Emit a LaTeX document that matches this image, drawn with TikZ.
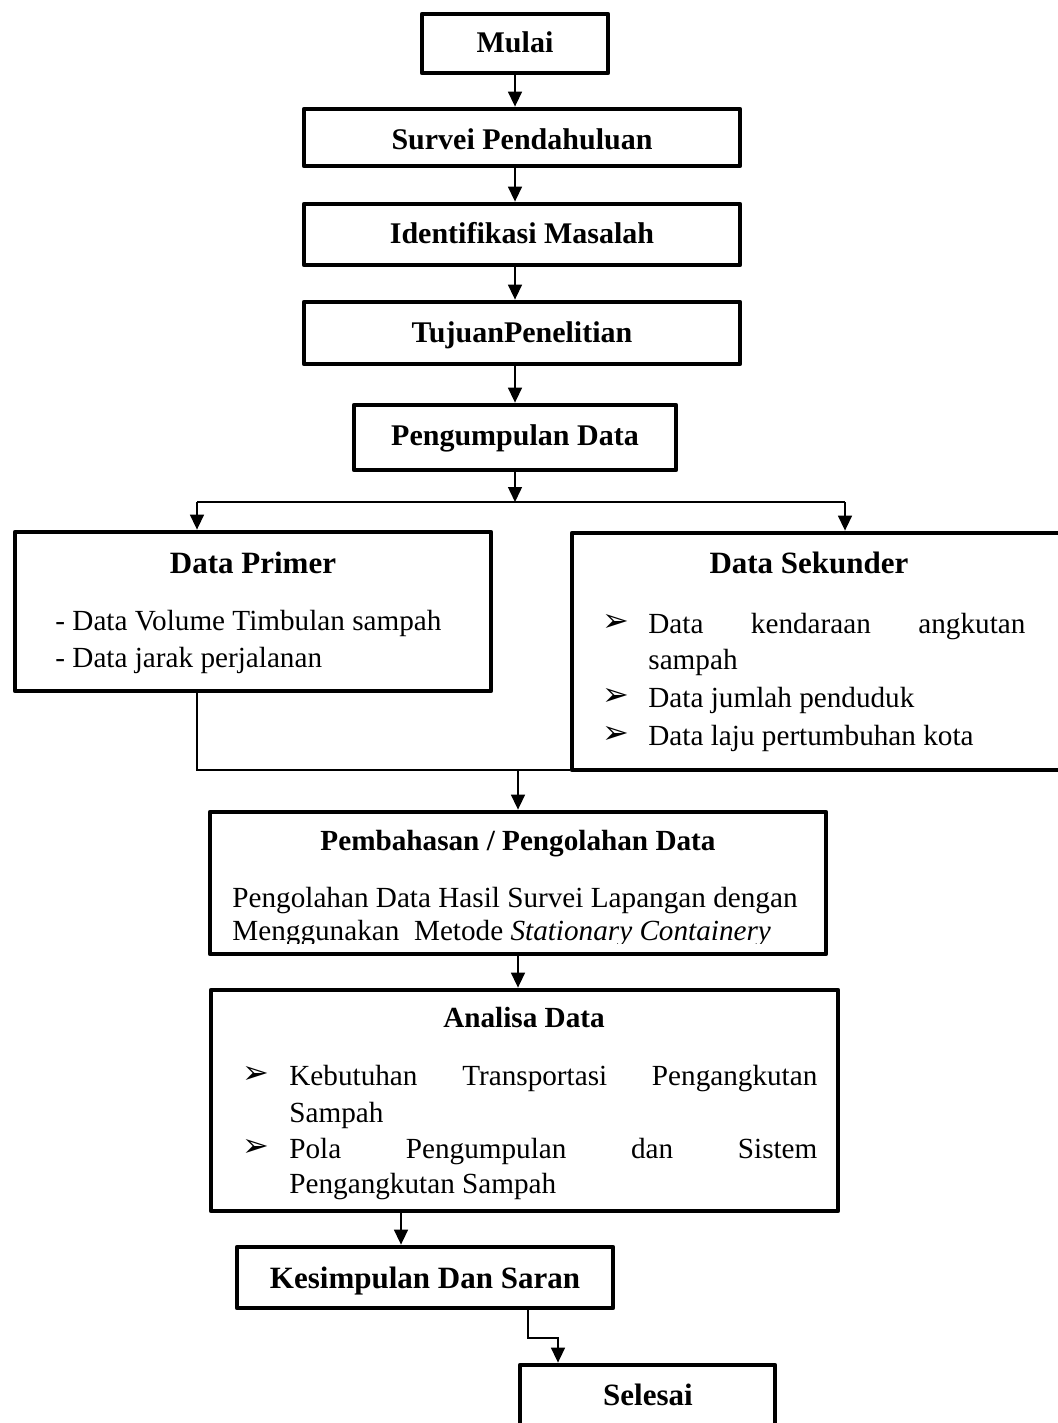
\documentclass[tikz,border=0pt]{standalone}
\usepackage{fontspec}
\setmainfont{Liberation Serif}
\newfontfamily\dingfont{DejaVu Sans}
\usetikzlibrary{arrows.meta,fit}
\tikzset{
  box/.style={draw, line width=2.4pt, inner sep=0pt, line join=round},
  arr/.style={-{Triangle[length=7.5pt,width=7pt]}, line width=0.75pt},
  conn/.style={line width=0.75pt},
  ttl/.style={font=\fontsize{15}{18}\selectfont\bfseries, inner sep=0pt, anchor=base},
  ttlb/.style={font=\fontsize{15.5}{18}\selectfont\bfseries, inner sep=0pt, anchor=base},
  ttls/.style={font=\fontsize{14.6}{17}\selectfont\bfseries, inner sep=0pt, anchor=base},
  txt/.style={font=\fontsize{14.6}{17}\selectfont, inner sep=0pt, anchor=base west},
  bul/.style={font=\dingfont\fontsize{16}{18}\selectfont, inner sep=0pt, anchor=base west}
}
\begin{document}
\begin{tikzpicture}[x=0.5pt,y=-0.5pt]
\useasboundingbox (0,0) rectangle (1057,1423);

% boxes
\node[box, fit={(422,14) (608,73)}] (mulai) {};
\node[box, fit={(304,109) (740,166)}] (survei) {};
\node[box, fit={(304,204) (740,265)}] (ident) {};
\node[box, fit={(304,302) (740,364)}] (tujuan) {};
\node[box, fit={(354,405) (676,470)}] (peng) {};
\node[box, fit={(15,532) (491,691)}] (primer) {};
\node[box, fit={(572,533) (1090,770)}] (sekunder) {};
\node[box, fit={(210,812) (826,954)}] (pem) {};
\node[box, fit={(211,990) (838,1211)}] (ana) {};
\node[box, fit={(237,1247) (613,1308)}] (kes) {};
\node[box, fit={(520,1365) (775,1460)}] (sel) {};

% texts
\node[ttl] (tmulai) at (515,53) {Mulai};
\node[ttl] (tsurvei) at (522,150) {Survei Pendahuluan};
\node[ttl] (tident) at (522,243) {Identifikasi Masalah};
\node[ttl] (ttujuan) at (522,342) {TujuanPenelitian};
\node[ttl] (tpeng) at (515,445) {Pengumpulan Data};

\node[ttlb] (tprimer) at (253,573) {Data Primer};
\node[txt] (p1) at (55,630) {- Data Volume Timbulan sampah};
\node[txt] (p2) at (55,667) {- Data jarak perjalanan};

\node[ttlb] (tsek) at (809,573) {Data Sekunder};
\node[bul] (sb1) at (602,631) {➢};
\node[txt] (s1) at (648,633) {\hbox to 188.5pt{Data\hfill kendaraan\hfill angkutan}};
\node[txt] (s2) at (648,669) {sampah};
\node[bul] (sb2) at (602,705) {➢};
\node[txt] (s3) at (648,707) {Data jumlah penduduk};
\node[bul] (sb3) at (602,743) {➢};
\node[txt] (s4) at (648,745) {Data laju pertumbuhan kota};

\node[ttls] (tpem) at (518,850) {Pembahasan / Pengolahan Data};
\node[txt] (pm1) at (232,907) {Pengolahan Data Hasil Survei Lapangan dengan};
\begin{scope}
  \clip (212,880) rectangle (824,943);
  \node[txt] (pm2) at (232,940) {Menggunakan\ \ Metode \textit{Stationary Containery}};
\end{scope}

\node[ttls] (tana) at (524,1027) {Analisa Data};
\node[bul] (ab1) at (242,1083) {➢};
\node[txt] (a1) at (289,1085) {\hbox to 264pt{Kebutuhan\hfill Transportasi\hfill Pengangkutan}};
\node[txt] (a2) at (289,1122) {Sampah};
\node[bul] (ab2) at (242,1156) {➢};
\node[txt] (a3) at (289,1158) {\hbox to 264pt{Pola\hfill Pengumpulan\hfill dan\hfill Sistem}};
\node[txt] (a4) at (289,1193) {Pengangkutan Sampah};

\node[ttlb] (tkes) at (425,1288) {Kesimpulan Dan Saran};
\node[ttlb] (tsel) at (648,1405) {Selesai};

% connectors
\draw[arr] (mulai.south) -- (mulai.south |- survei.north);
\draw[arr] (mulai.south |- survei.south) -- (mulai.south |- ident.north);
\draw[arr] (mulai.south |- ident.south) -- (mulai.south |- tujuan.north);
\draw[arr] (mulai.south |- tujuan.south) -- (mulai.south |- peng.north);
\coordinate (bl) at (197,502);
\coordinate (br) at (845,502);
\draw[arr] (peng.south) -- (peng.south |- bl);
\draw[conn] (bl) -- (br);
\draw[arr] (bl) -- (bl |- primer.north);
\draw[arr] (br) -- (br |- sekunder.north);
\coordinate (jl) at (197,770);
\draw[conn] (primer.south -| jl) -- (jl) -- (jl -| sekunder.west);
\draw[arr] (pem.north |- jl) -- (pem.north);
\draw[arr] (pem.south) -- (pem.south |- ana.north);
\coordinate (ak) at (401,1230);
\draw[arr] (ana.south -| ak) -- (kes.north -| ak);
\coordinate (k1) at (528,1338);
\coordinate (k2) at (558,1338);
\draw[arr] (kes.south -| k1) -- (k1) -- (k2) -- (k2 |- sel.north);
\end{tikzpicture}
\end{document}
